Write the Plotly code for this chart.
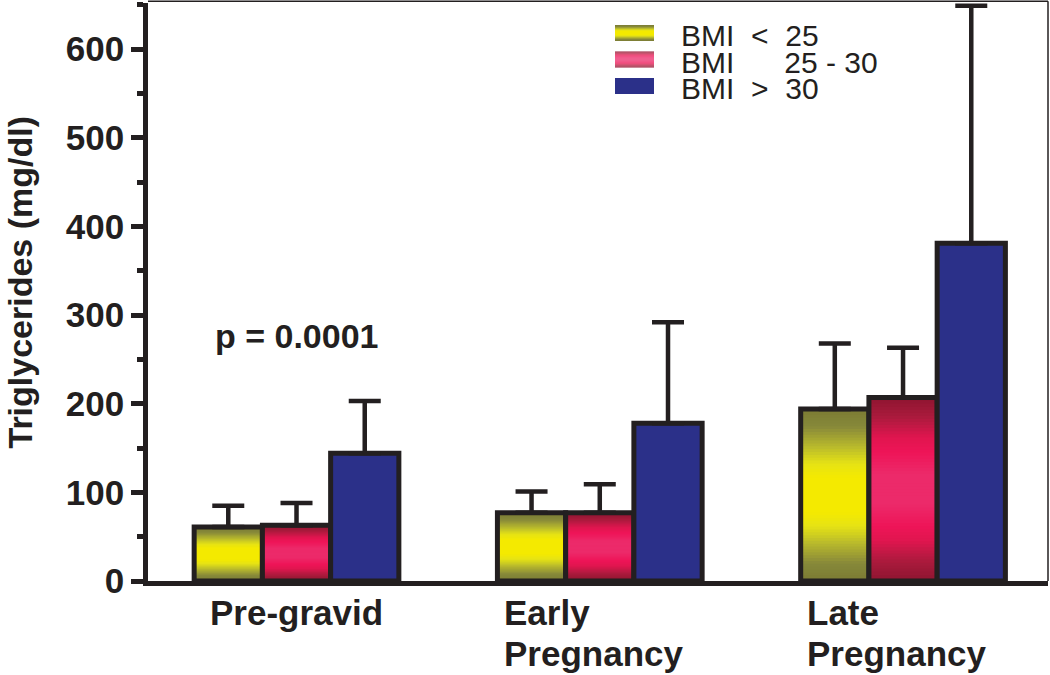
import plotly.graph_objects as go

# ---------------- data ----------------
categories = ["Pre-gravid", "Early Pregnancy", "Late Pregnancy"]
category_lines = [["Pre-gravid"], ["Early", "Pregnancy"], ["Late", "Pregnancy"]]

bmi_lt25 = [61, 77, 194]
bmi_lt25_upper = [85, 101, 268]
bmi_25_30 = [63, 77, 207]
bmi_25_30_upper = [88, 109, 263]
bmi_gt30 = [144, 178, 381]
bmi_gt30_upper = [203, 292, 649]

y_tick_values = [0, 100, 200, 300, 400, 500, 600]
y_tick_labels = ["0", "100", "200", "300", "400", "500", "600"]
y_title = "Triglycerides (mg/dl)"
p_value_text = "p = 0.0001"
p_value_pos = (0, 276)

NB = "\u00a0"
legend_texts = [
    "BMI" + NB * 2 + "<" + NB * 2 + "25",
    "BMI" + NB * 6 + "25 - 30",
    "BMI" + NB * 2 + ">" + NB * 2 + "30",
]

# ---------------- style ----------------
INK = "#231f20"
BLUE = "#2b3089"
FONT = "Liberation Sans"
YELLOW_STOPS = [(0.00, "#7b7b33"), (0.10, "#86883a"), (0.22, "#b9ba2c"),
                (0.32, "#e6e314"), (0.40, "#f4ea00"), (0.60, "#f4ea00"),
                (0.68, "#e6e314"), (0.78, "#b9ba2c"), (0.90, "#86883a"),
                (1.00, "#7b7b33")]
RED_STOPS = [(0.00, "#8e1530"), (0.10, "#a81a3c"), (0.22, "#e0164f"),
             (0.30, "#ee1458"), (0.42, "#ec2a6a"), (0.58, "#ec2a6a"),
             (0.70, "#ee1458"), (0.78, "#e0164f"), (0.90, "#a81a3c"),
             (1.00, "#8e1530")]
N_SLICES = 60


def hex2rgb(h):
    h = h.lstrip("#")
    return tuple(int(h[i:i + 2], 16) for i in (0, 2, 4))


def grad(stops, t):
    for (t0, c0), (t1, c1) in zip(stops[:-1], stops[1:]):
        if t0 <= t <= t1:
            f = 0 if t1 == t0 else (t - t0) / (t1 - t0)
            a, b = hex2rgb(c0), hex2rgb(c1)
            r = [round(a[i] + (b[i] - a[i]) * f) for i in range(3)]
            return "rgb(%d,%d,%d)" % tuple(r)
    return stops[-1][1]


# plot-area pixel geometry (for paper-coordinate helpers)
W, H = 1050, 675
ML, MR, MT, MB = 148, 2, 3, 94
PW, PH = W - ML - MR, H - MT - MB


def px_x(px):
    return (px - ML) / PW


def px_y(py):
    return (H - MB - py) / PH


x = list(range(len(categories)))
fig = go.Figure()

series = [
    ("BMI < 25", bmi_lt25, bmi_lt25_upper, YELLOW_STOPS),
    ("BMI 25 - 30", bmi_25_30, bmi_25_30_upper, RED_STOPS),
    ("BMI > 30", bmi_gt30, bmi_gt30_upper, None),
]

for si, (name, vals, upper, stops) in enumerate(series):
    og = "g%d" % si
    if stops is not None:
        for k in range(N_SLICES):
            f0 = k / N_SLICES
            fig.add_trace(go.Bar(
                x=x, y=[v * (1 - f0) for v in vals], base=[v * f0 for v in vals],
                offsetgroup=og, showlegend=False, hoverinfo="skip",
                marker=dict(color=grad(stops, (k + 0.5) / N_SLICES), line=dict(width=0)),
            ))
        fill = "rgba(0,0,0,0)"
    else:
        fill = BLUE
    fig.add_trace(go.Bar(
        x=x, y=vals, name=name, offsetgroup=og, showlegend=False,
        marker=dict(color=fill, line=dict(color=INK, width=5)),
        error_y=dict(type="data", symmetric=False,
                     array=[u - v for u, v in zip(upper, vals)],
                     arrayminus=[0] * len(vals),
                     color=INK, thickness=4.5, width=16),
    ))

annotations = []
# category labels
for i, lines in enumerate(category_lines):
    for li, line in enumerate(lines):
        annotations.append(dict(
            x=x[i], y=0, xref="x", yref="paper", text=line, showarrow=False,
            xanchor="center" if len(lines) == 1 else "left",
            xshift=0 if len(lines) == 1 else -98,
            yanchor="middle", yshift=-31 - 41 * li,
            font=dict(family=FONT, size=35, color=INK, weight="bold"),
        ))
# p-value
annotations.append(dict(
    x=p_value_pos[0], y=p_value_pos[1], xref="x", yref="y", text=p_value_text,
    showarrow=False, xanchor="center", yanchor="middle",
    font=dict(family=FONT, size=34, color=INK, weight="bold"),
))
# y title
annotations.append(dict(
    x=px_x(19.5), y=px_y(282), xref="paper", yref="paper", text=y_title,
    showarrow=False, textangle=-90, xanchor="center", yanchor="middle", borderpad=0,
    font=dict(family=FONT, size=34, color=INK, weight="bold"),
))

# legend (manual): swatches as shapes, texts as one block with tight line spacing
shapes = []
row_cy = [36, 62.5, 89]
sw_x0, sw_x1 = 615, 654
sw_h = 16
sw_stops = [YELLOW_STOPS, RED_STOPS, None]
for r in range(len(legend_texts)):
    cy = row_cy[r] - 3
    y0 = cy - sw_h / 2
    st = sw_stops[r]
    if st is None:
        shapes.append(dict(type="rect", xref="paper", yref="paper",
                           x0=px_x(sw_x0), x1=px_x(sw_x1), y0=px_y(y0 + sw_h), y1=px_y(y0),
                           fillcolor=BLUE, line=dict(width=0)))
    else:
        n = 16
        for k in range(n):
            shapes.append(dict(type="rect", xref="paper", yref="paper",
                               x0=px_x(sw_x0), x1=px_x(sw_x1),
                               y0=px_y(y0 + sw_h * (k + 1) / n), y1=px_y(y0 + sw_h * k / n),
                               fillcolor=grad(st, (k + 0.5) / n), line=dict(width=0)))

legend_block = "<br>".join('<span style="font-size:30px">%s</span>' % t for t in legend_texts)
annotations.append(dict(
    x=px_x(680), y=px_y(row_cy[1]), xref="paper", yref="paper", text=legend_block,
    showarrow=False, xanchor="left", yanchor="middle", align="left", borderpad=0,
    font=dict(family=FONT, size=20.4, color=INK),
))

# thin frame top/right
shapes.append(dict(type="line", xref="paper", yref="paper", x0=0, x1=1, y0=1.003, y1=1.003,
                   line=dict(color=INK, width=1.5)))
shapes.append(dict(type="line", xref="paper", yref="paper", x0=1, x1=1, y0=0, y1=1.003,
                   line=dict(color=INK, width=1.5)))

fig.update_layout(
    width=W, height=H,
    margin=dict(l=ML, r=MR, t=MT, b=MB, pad=0),
    paper_bgcolor="white", plot_bgcolor="white",
    barmode="group", bargap=0.325, bargroupgap=0,
    showlegend=False,
    annotations=annotations, shapes=shapes,
    xaxis=dict(range=[-0.4897, 2.478], showgrid=False, zeroline=False,
               showticklabels=False, ticks="", showline=True, linewidth=4.5,
               linecolor=INK, fixedrange=True),
    yaxis=dict(range=[0, 652], showgrid=False, zeroline=False,
               tickmode="array", tickvals=y_tick_values, ticktext=y_tick_labels,
               ticks="outside", ticklen=12, tickwidth=4.5, tickcolor=INK,
               minor=dict(dtick=50, tick0=0, ticks="outside", ticklen=6,
                          tickwidth=4.5, tickcolor=INK),
               showline=True, linewidth=4.5, linecolor=INK,
               tickfont=dict(family=FONT, size=35, color=INK, weight="bold")),
)

fig.write_html(
    "out.html",
    config={"displayModeBar": False},
    post_script="document.body.style.margin='0';document.body.style.overflow='hidden';",
)
